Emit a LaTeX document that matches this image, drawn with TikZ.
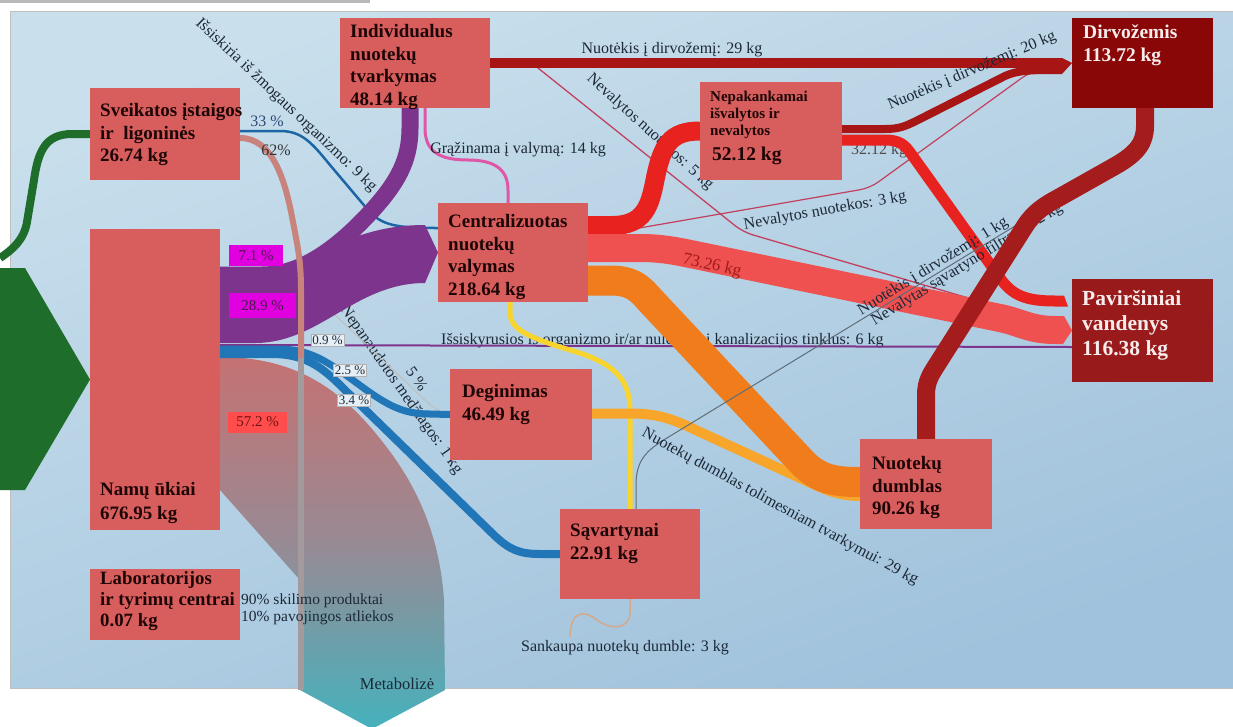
\documentclass[tikz,border=0pt]{standalone}
\usepackage{fontspec}
\setmainfont{Liberation Serif}
\usetikzlibrary{calc}
\pgfdeclarelayer{bg}
\pgfdeclarelayer{flows}
\pgfsetlayers{bg,flows,main}

\definecolor{bgtop}{HTML}{C9DFEC}
\definecolor{bgbot}{HTML}{A0C2DC}
\definecolor{boxred}{HTML}{D85E5E}
\definecolor{boxtxt}{HTML}{1E0606}
\definecolor{dirfill}{HTML}{8A0707}
\definecolor{pavfill}{HTML}{991A1A}
\definecolor{whtxt}{HTML}{F6ECEC}
\definecolor{fpurple}{HTML}{7D348C}
\definecolor{fblue}{HTML}{2176B8}
\definecolor{fblue2}{HTML}{1C66A6}
\definecolor{fred}{HTML}{E8221F}
\definecolor{flred}{HTML}{EF5050}
\definecolor{fdred}{HTML}{A81515}
\definecolor{fdred2}{HTML}{A51C1C}
\definecolor{forange}{HTML}{F07C1B}
\definecolor{fyor}{HTML}{F8A62B}
\definecolor{fyellow}{HTML}{F8D42C}
\definecolor{fpink}{HTML}{E056A6}
\definecolor{fgreen}{HTML}{1F6D2B}
\definecolor{ftan}{HTML}{C8837C}
\definecolor{fgray}{HTML}{A39A9E}
\definecolor{fsank}{HTML}{D4A98A}
\definecolor{thinred}{HTML}{C2405E}
\definecolor{glinecol}{HTML}{5E6E78}
\definecolor{labtxt}{HTML}{1C2836}
\definecolor{metA}{HTML}{C57272}
\definecolor{metB}{HTML}{988A94}
\definecolor{metC}{HTML}{45B2BD}
\definecolor{pctmag}{HTML}{E000E0}
\definecolor{pctred}{HTML}{FF4C4C}
\definecolor{pctlight}{HTML}{E6EFF5}
\definecolor{pcttxt}{HTML}{4A1A4A}
\definecolor{pctrtxt}{HTML}{701515}
\definecolor{lbl33}{HTML}{2B4A78}

\begin{document}
\begin{tikzpicture}[x=1pt,y=-1pt,
  box/.style={fill=boxred, inner sep=0, outer sep=0, anchor=north west},
  btxt/.style={anchor=north west, align=left, inner sep=0, font=\bfseries\fontsize{19}{22.5}\selectfont, text=boxtxt},
  elab/.style={font=\fontsize{16}{18}\selectfont, text=labtxt, inner sep=0},
  pct/.style={inner sep=2pt, font=\fontsize{15}{15}\selectfont},
  pctl/.style={fill=pctlight, draw=black!30, line width=0.5, font=\fontsize{13}{13}\selectfont, text=labtxt, inner sep=1.5pt},
]
\useasboundingbox (0,0) rectangle (1233,726);

% ---------- boxes ----------
\node[box, minimum width=150, minimum height=92] (sve) at (90,88) {};
\node[box, minimum width=150, minimum height=90] (ind) at (340,18) {};
\node[box, fill=dirfill, minimum width=141, minimum height=90] (dir) at (1072,18) {};
\node[box, minimum width=142, minimum height=98] (nep) at (700,82) {};
\node[box, minimum width=150, minimum height=99] (cen) at (438,203) {};
\node[box, minimum width=130, minimum height=301] (nam) at (90,229) {};
\node[box, fill=pavfill, minimum width=141, minimum height=103] (pav) at (1072,279) {};
\node[box, minimum width=142, minimum height=91] (deg) at (450,369) {};
\node[box, minimum width=132, minimum height=90] (nuo) at (860,439) {};
\node[box, minimum width=140, minimum height=90] (sav) at (560,509) {};
\node[box, minimum width=150, minimum height=71] (lab) at (90,569) {};

\node[btxt] (sveT) at ([xshift=10pt,yshift=-15.5pt]sve.north west) {Sveikatos įstaigos\\ir\ \ ligoninės\\26.74 kg};
\node[btxt] (indT) at ([xshift=10pt,yshift=-6.5pt]ind.north west) {Individualus\\nuotekų\\tvarkymas\\48.14 kg};
\node[btxt, text=whtxt, font=\bfseries\fontsize{19.5}{23}\selectfont] (dirT) at ([xshift=11pt,yshift=-6.5pt]dir.north west) {Dirvožemis\\113.72 kg};
\node[btxt, font=\bfseries\fontsize{15}{17}\selectfont] (nepT) at ([xshift=10pt,yshift=-8.5pt]nep.north west) {Nepakankamai\\išvalytos ir\\nevalytos};
\node[btxt, font=\bfseries\fontsize{19.5}{22}\selectfont] (nepV) at ([xshift=12pt,yshift=-64.5pt]nep.north west) {52.12 kg};
\node[btxt] (cenT) at ([xshift=10pt,yshift=-11.5pt]cen.north west) {Centralizuotas\\nuotekų\\valymas\\218.64 kg};
\node[btxt, font=\bfseries\fontsize{19}{23.5}\selectfont] (namT) at ([xshift=10pt,yshift=-253.5pt]nam.north west) {Namų ūkiai\\676.95 kg};
\node[btxt, text=whtxt, font=\bfseries\fontsize{21.5}{25}\selectfont] (pavT) at ([xshift=10pt,yshift=-11pt]pav.north west) {Paviršiniai\\vandenys\\116.38 kg};
\node[btxt] (degT) at ([xshift=12pt,yshift=-15.5pt]deg.north west) {Deginimas\\46.49 kg};
\node[btxt] (nuoT) at ([xshift=12pt,yshift=-17.5pt]nuo.north west) {Nuotekų\\dumblas\\90.26 kg};
\node[btxt] (savT) at ([xshift=10pt,yshift=-14.5pt]sav.north west) {Sąvartynai\\22.91 kg};
\node[btxt, font=\bfseries\fontsize{18.8}{21}\selectfont] (labT) at ([xshift=10pt,yshift=-2.5pt]lab.north west) {Laboratorijos\\ir tyrimų centrai\\0.07 kg};

% ---------- background and under-labels ----------
\begin{pgfonlayer}{bg}
\fill[white] (0,0) rectangle (1233,726);
\fill[gray!55] (0,0) rectangle (370,3);
\shade[top color=bgtop, bottom color=bgbot, shading angle=20] (10,11) rectangle (1233,688);
\draw[black!25, line width=0.8] (1233,11) -- (10,11) -- (10,688) -- (1233,688);
\node[elab, rotate=-43.5] (lIss) at (286,105) {Išsiskiria iš žmogaus organizmo: 9 kg};
\node[elab, rotate=-55] (lNep) at (401,390) {Nepanaudotos medžiagos: 1 kg};
\node[elab, rotate=-55] (l5) at (417,379) {5 \%};
\node[elab, anchor=base west] (lIsk) at (441,344) {Išsiskyrusios is organizmo ir/ar nuleistos į kanalizacijos tinklus: 6 kg};
\node[elab, rotate=-42] (lNev5) at (650,132) {Nevalytos nuotekos: 5 kg};
\draw[black!25, line width=1] (333,313) -- (425,400) .. controls (432,407) and (440,412) .. (deg.west);
\end{pgfonlayer}

% ---------- flows ----------
\begin{pgfonlayer}{flows}
% green input
\coordinate (gend) at (0,258);
\draw[fgreen, line width=8] (sve.west) -- (72,134) .. controls (45,134) and (38,152) .. (34,180) -- (27,222) .. controls (24,240) and (12,250) .. (gend);
\fill[fgreen] (0,268) -- (25,268) -- (nam.west) -- (25,490) -- (0,490) -- cycle;

% metabolize band
\coordinate (mtip) at (372,729);
\shade[top color=metA, bottom color=metC, middle color=metB] ($(nam.north east)+(0,128)$) .. controls (300,357) and (345,393) .. (385,445) .. controls (420,490) and (440,540) .. (444,600) -- (445,690) -- (mtip) -- (300,690) -- (300,580) -- ($(nam.north east)+(0,261)$) -- cycle;

% 33 %
\draw[fblue2, line width=2.5] ($(sve.east)+(0,-3)$) -- (280,131) .. controls (302,131) and (312,143) .. (330,165) -- (368,210) .. controls (382,226) and (398,228) .. ($(cen.west)+(0,-24.5)$);

% purple
\draw[fpurple, line width=17] ($(nam.north east)+(0,46)$) -- (262,275) .. controls (300,275) and (335,250) .. (368,215) .. controls (398,183) and (410,160) .. (410,128) -- ($(ind.south west)+(70,0)$);
\fill[fpurple] ($(nam.north east)+(0,54)$) .. controls (300,283) and (330,225) .. (425,225) -- (cen.west) -- (425,283) .. controls (355,283) and (320,343) .. (255,343) -- ($(nam.north east)+(0,114)$) -- cycle;
\draw[fpurple, line width=2] ($(nam.north east)+(0,116)$) -- ($(pav.south west)+(0,-35)$);

% blue
\draw[fblue, line width=7] ($(nam.north east)+(0,120)$) -- (278,349) .. controls (308,349) and (325,360) .. (350,378) .. controls (385,404) and (400,414) .. (430,414) -- (deg.west);
\draw[fblue, line width=8] ($(nam.north east)+(0,125)$) -- (272,354) .. controls (308,354) and (325,370) .. (345,390) -- (495,536) .. controls (510,550) and (520,554) .. (540,554) -- (sav.west);

% 62 % (over purple and blue)
\draw[ftan, line width=6] ($(sve.east)+(0,4)$) .. controls (272,138) and (285,178) .. (293,222) .. controls (298,248) and (301,262) .. (301,290) -- (301,360);
\coordinate (m62) at (301,690);
\draw[fgray, line width=6] (301,358) -- (m62);

% thin lines
\draw[thinred, line width=1.3, rounded corners=10] ($(ind.east)+(43,1)$) -- (743,232) -- ($(pav.west)+(-20,-8)$);
\draw[thinred, line width=1.2, rounded corners=10] ($(cen.east)+(8,-17)$) -- (870,188) -- (1030,72) -- ($(dir.west)+(-22,6)$);

% yellow, pink
\draw[fyellow, line width=5] ($(cen.south west)+(72,0)$) -- (510,315) .. controls (512,330) and (530,338) .. (570,350) .. controls (612,362) and (630,378) .. (630,410) -- ($(sav.north west)+(70,0)$);
\draw[fpink, line width=3] ($(ind.south west)+(85,0)$) -- (425,128) .. controls (425,152) and (440,160) .. (468,160) .. controls (498,160) and (508,172) .. (508,190) -- ($(cen.north west)+(70,0)$);

% red cen -> nep
\draw[fred, line width=19] ($(cen.east)+(0,-27)$) -- (612,225.5) .. controls (645,225.5) and (650,205) .. (655,180) .. controls (662,145) and (670,131) .. (nep.west);

% 73.26
\draw[flred, line width=28] ($(cen.east)+(0,-4.5)$) -- (640,248) .. controls (665,248) and (680,252) .. (705,257) -- (1000,318) .. controls (1020,322) and (1030,330) .. (1055,330);
\fill[flred] (1055,316) -- (1064,316) -- (pav.west) -- (1063,344) -- (1055,344) -- cycle;

% orange
\draw[fyor, line width=10] ($(deg.east)+(0,-1)$) -- (630,413.5) .. controls (660,413.5) and (675,420) .. (700,432) -- (800,478) .. controls (820,487) and (835,496) .. ($(nuo.west)+(0,12)$);
\draw[forange, line width=30] ($(cen.east)+(0,28)$) -- (610,280.5) .. controls (630,280.5) and (638,286) .. (650,300) -- (800,460) .. controls (818,480) and (835,482) .. ($(nuo.west)+(0,-2)$);

% 32.12
\node[elab, text=black!70] (l3212) at (879,151) {32.12 kg};
\draw[fred, line width=11] ($(nep.east)+(0,9)$) -- (885,140) .. controls (900,140) and (905,145) .. (912,155) -- (1000,278) .. controls (1012,295) and (1025,301) .. (1055,301);
\fill[fred] (1055,295.5) -- (1064,295.5) -- (1068,306.5) -- (1055,306.5) -- cycle;

% 20 kg and 29 kg
\draw[fdred, line width=8] ($(nep.east)+(0,-2)$) -- (885,129) .. controls (900,129) and (906,126) .. (920,119) -- (1005,76) .. controls (1016,71) and (1028,70) .. (1050,70);
\draw[fdred, line width=10] (ind.east) -- (1050,63);
\fill[fdred] (1050,58) -- (1062,58) -- (dir.west) -- (1062,74) -- (1050,74) -- cycle;

% savartynai gray line
\coordinate (gl) at (1015,226);
\draw[glinecol, line width=1] ($(sav.north west)+(76,0)$) -- (636,485) .. controls (636,462) and (645,452) .. (662,441) -- (gl);
\node[elab, rotate=31.5, anchor=south] (l1kg) at (937,273) {Nuotėkis į dirvožemį: 1 kg};
\node[elab, rotate=31.5, anchor=north] (l2kg) at (963,258) {Nevalytas sąvartyno filtratas: 2 kg};

% dumblas -> dirvozemis
\draw[fdred2, line width=18, line join=round] ($(nuo.north west)+(66,0)$) -- (926,395) .. controls (926,381) and (931,374) .. (938,363) -- (1025,226) .. controls (1034,212) and (1045,205) .. (1060,197) -- (1115,166) .. controls (1138,153) and (1145,142) .. (1145,126) -- ($(dir.south west)+(73,0)$);

% sankaupa
\draw[fsank, line width=1.5] ($(sav.south west)+(70,0)$) -- (630,612) .. controls (630,630) and (610,630) .. (597,620) .. controls (585,610) and (570,610) .. (570,637);
\end{pgfonlayer}

% ---------- labels ----------
\node[elab] (l29) at (672,50) {Nuotėkis į dirvožemį: 29 kg};
\node[elab] (l14) at (518,150) {Grąžinama į valymą: 14 kg};
\node[elab, rotate=23] (l20) at (972,71) {Nuotėkis į dirvožemį: 20 kg};
\node[elab, rotate=10] (l3) at (825,211) {Nevalytos nuotekos: 3 kg};
\node[elab, rotate=-13, text=red!60!black!90, font=\fontsize{17}{18}\selectfont] (l7326) at (712,266) {73.26 kg};
\node[elab, rotate=-28.5] (ldumb) at (780,507) {Nuotekų dumblas tolimesniam tvarkymui: 29 kg};
\node[elab] (lsank) at (625,648) {Sankaupa nuotekų dumble: 3 kg};
\node[elab, font=\fontsize{16.5}{18}\selectfont] (lmet) at (397,684) {Metabolizė};
\node[elab, anchor=base west, font=\fontsize{15.5}{17}\selectfont] (l90) at (241,604) {90\% skilimo produktai};
\node[elab, anchor=base west, font=\fontsize{15.5}{17}\selectfont] (l10) at (241,621) {10\% pavojingos atliekos};
\node[elab, text=lbl33] (l33) at (267,121) {33 \%};
\node[elab, text=black!80] (l62) at (276,150) {62\%};

\node[pct, fill=pctmag, text=pcttxt, minimum width=54, minimum height=21] (p71) at (256,255.5) {7.1 \%};
\node[pct, fill=pctmag, text=pcttxt, minimum width=67, minimum height=25] (p289) at (262.5,305.5) {28.9 \%};
\node[pctl] (p09) at (327.5,340) {0.9 \%};
\node[pctl] (p25) at (350,370.5) {2.5 \%};
\node[pctl] (p34) at (354,400) {3.4 \%};
\node[pct, fill=pctred, text=pctrtxt, minimum width=59, minimum height=21] (p572) at (257.5,422) {57.2 \%};
\end{tikzpicture}
\end{document}
